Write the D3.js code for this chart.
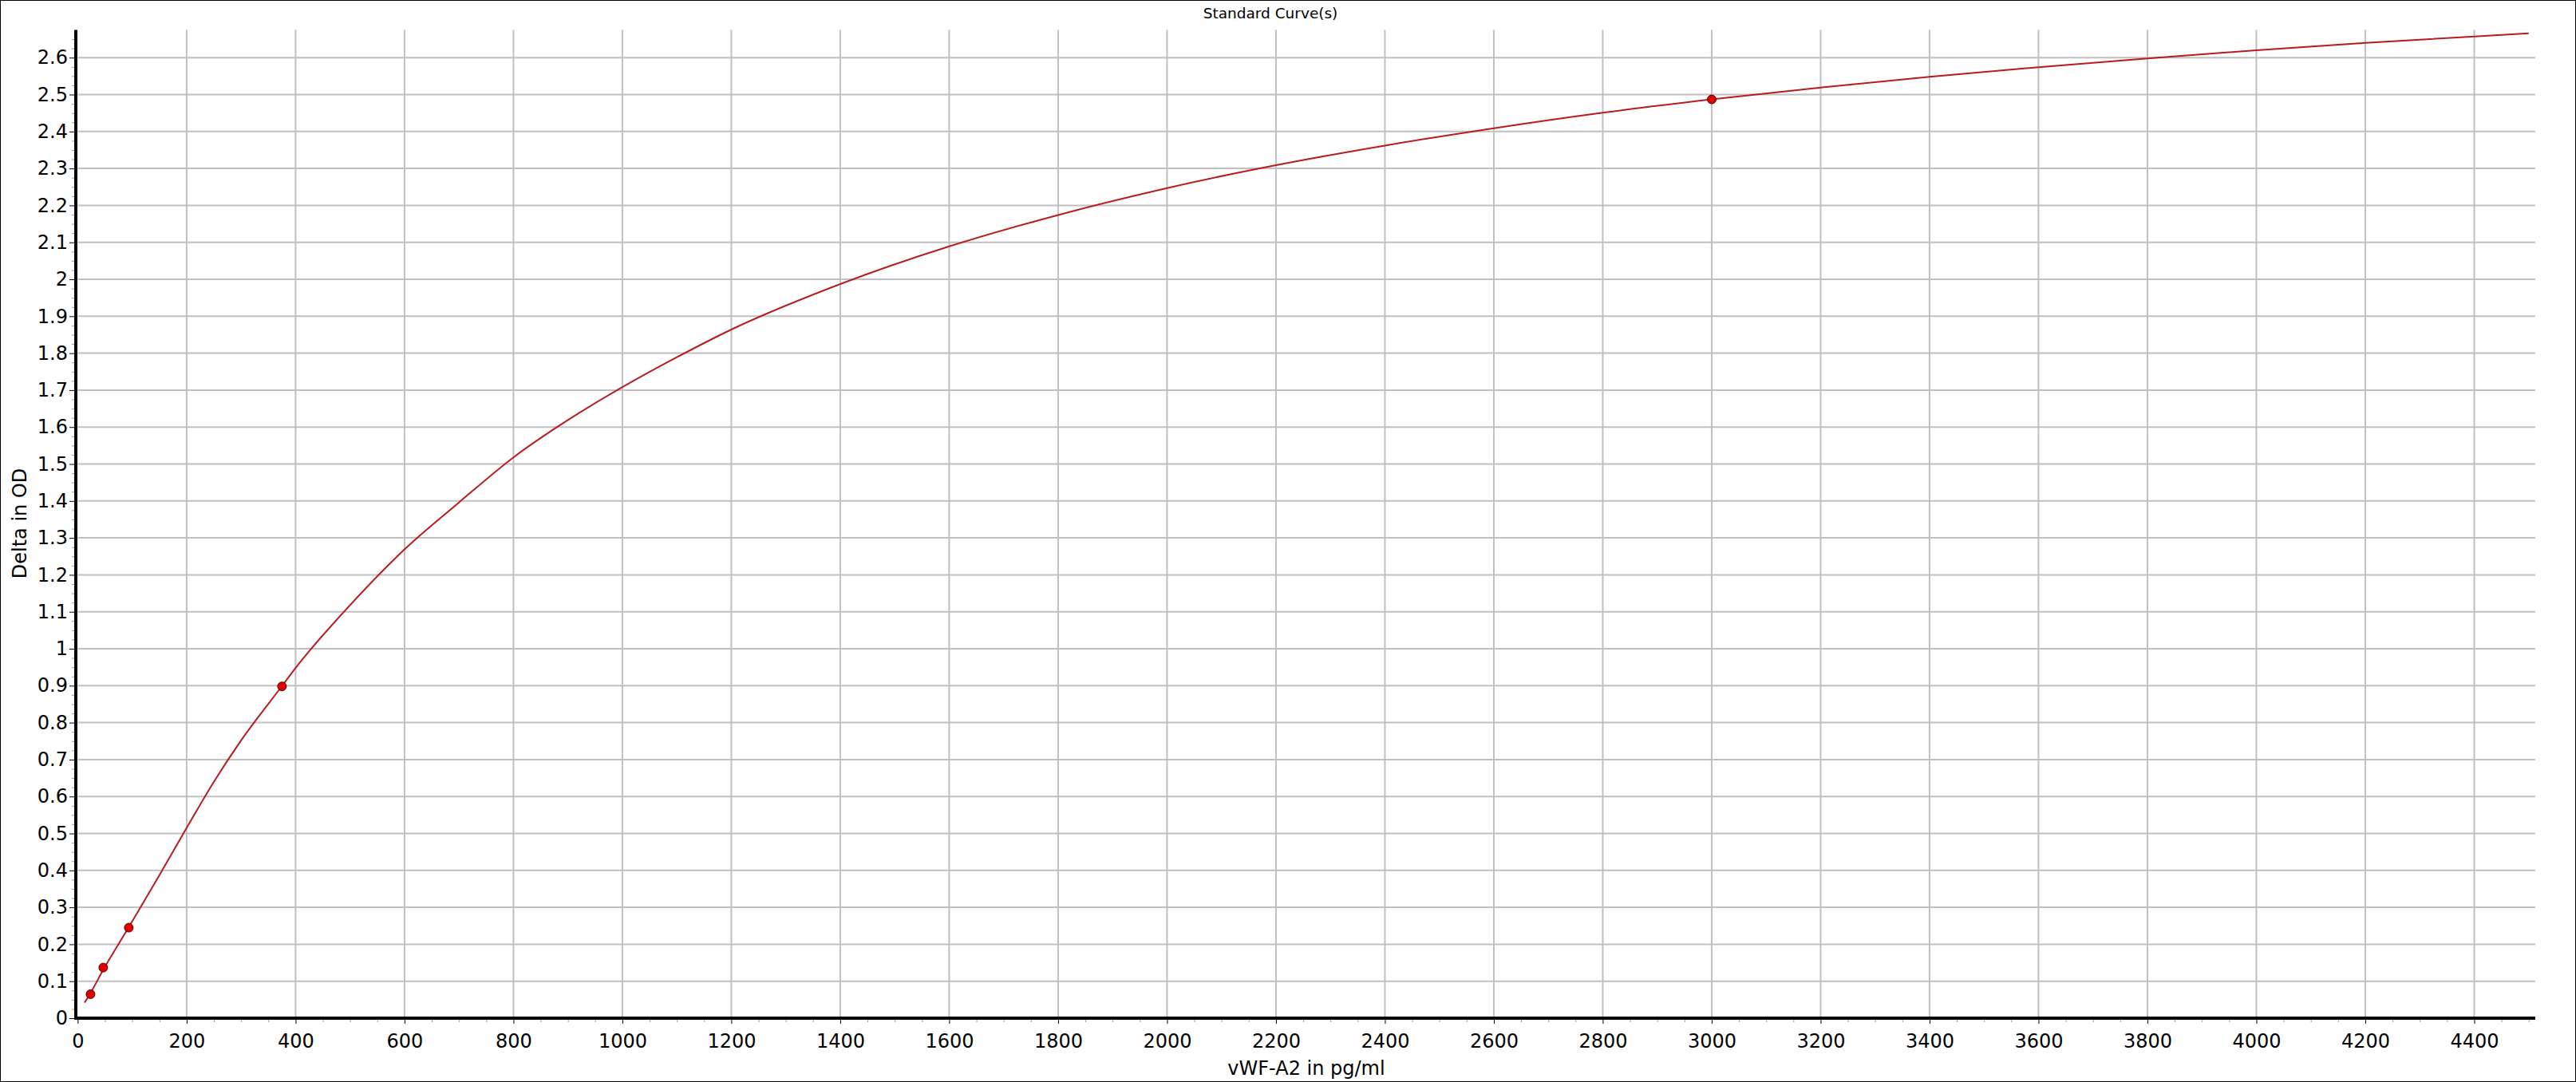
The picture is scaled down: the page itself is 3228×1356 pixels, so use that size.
<!DOCTYPE html>
<html>
<head>
<meta charset="utf-8">
<script src="https://cdn.jsdelivr.net/npm/d3@7/dist/d3.min.js"></script>
<style>
  html, body { margin: 0; padding: 0; background: #fff; }
  svg { display: block; font-family: "DejaVu Sans", Verdana, sans-serif; }
</style>
</head>
<body>
<svg id="chart" width="3228" height="1356"></svg>
<script>
// standards (measured points)
const stdConc = [23.4375, 46.875, 93.75, 375, 3000];
const stdOD = [0.065, 0.137, 0.245, 0.898, 2.487];

// fitted curve
const curveConc = [12.7, 23.4, 46.9, 93.75, 150, 200, 250, 300, 375, 400, 500, 600, 700, 800, 900, 1000, 1100,
  1200, 1400, 1600, 1800, 2000, 2200, 2400, 2600, 2800, 3000, 3200, 3400, 3600, 3800, 4000, 4200, 4400, 4500];
const curveOD = [0.042, 0.068, 0.131, 0.246, 0.387, 0.515, 0.64, 0.752, 0.899, 0.948, 1.118, 1.269, 1.396, 1.518,
  1.619, 1.708, 1.789, 1.864, 1.987, 2.089, 2.174, 2.247, 2.309, 2.362, 2.409, 2.451, 2.487, 2.519, 2.548, 2.574,
  2.598, 2.62, 2.64, 2.657, 2.666];

const xTicks = [0, 200, 400, 600, 800, 1000, 1200, 1400, 1600, 1800, 2000, 2200, 2400, 2600, 2800, 3000,
  3200, 3400, 3600, 3800, 4000, 4200, 4400];
const yTicks = [0, 0.1, 0.2, 0.3, 0.4, 0.5, 0.6, 0.7, 0.8, 0.9, 1, 1.1, 1.2, 1.3, 1.4, 1.5, 1.6, 1.7, 1.8, 1.9,
  2, 2.1, 2.2, 2.3, 2.4, 2.5, 2.6];

const chartTitle = "Standard Curve(s)";
const xTitle = "vWF-A2 in pg/ml";
const yTitle = "Delta in OD";

const width = 3228, height = 1356;
const plot = { left: 97.4, right: 3176.9, top: 37.5, bottom: 1276 };

const svg = d3.select("#chart");

const x = d3.scaleLinear().domain([0, 4512]).range([plot.left, plot.right]);
const y = d3.scaleLinear().domain([0, 2.675]).range([plot.bottom, plot.top]);

// grid
const grid = svg.append("g").attr("stroke", "#c0c0c0").attr("stroke-width", 2);
grid.selectAll("line.v")
  .data(xTicks.filter(d => d > 0))
  .join("line")
  .attr("class", "v")
  .attr("x1", d => x(d)).attr("x2", d => x(d))
  .attr("y1", plot.top).attr("y2", plot.bottom);
grid.selectAll("line.h")
  .data(yTicks.filter(d => d > 0))
  .join("line")
  .attr("class", "h")
  .attr("x1", plot.left).attr("x2", plot.right)
  .attr("y1", d => y(d)).attr("y2", d => y(d));

// minor ticks
const xMinor = d3.range(0, 4501, 50).filter(d => d % 200 !== 0);
const yMinor = d3.range(0, 2.675, 0.025).filter((d, i) => i % 4 !== 0);

svg.append("g")
  .attr("transform", `translate(0,${plot.bottom + 2})`)
  .call(d3.axisBottom(x).tickValues(xMinor).tickSize(3).tickFormat(""))
  .call(g => g.select(".domain").remove())
  .call(g => g.selectAll("line").attr("stroke", "#999"));

svg.append("g")
  .attr("transform", `translate(${plot.left - 4.4},0)`)
  .call(d3.axisLeft(y).tickValues(yMinor).tickSize(3).tickFormat(""))
  .call(g => g.select(".domain").remove())
  .call(g => g.selectAll("line").attr("stroke", "#999"));

// major axes
svg.append("g")
  .attr("transform", `translate(0,${plot.bottom + 2})`)
  .call(d3.axisBottom(x).tickValues(xTicks).tickSize(5).tickPadding(13).tickFormat(d3.format("d")))
  .call(g => g.select(".domain").remove())
  .call(g => g.selectAll("text").attr("font-size", 24).attr("fill", "#000").attr("font-family", "DejaVu Sans"))
  .call(g => g.selectAll("line").attr("stroke", "#000"));

svg.append("g")
  .attr("transform", `translate(${plot.left - 4.4},0)`)
  .call(d3.axisLeft(y).tickValues(yTicks).tickSize(6).tickPadding(2).tickFormat(d => String(+d.toFixed(1))))
  .call(g => g.select(".domain").remove())
  .call(g => g.selectAll("text").attr("font-size", 24).attr("fill", "#000").attr("font-family", "DejaVu Sans"))
  .call(g => g.selectAll("line").attr("stroke", "#000"));

// thick axis lines
svg.append("line")
  .attr("x1", plot.left - 2.4).attr("x2", plot.left - 2.4)
  .attr("y1", plot.top).attr("y2", plot.bottom + 2)
  .attr("stroke", "#000").attr("stroke-width", 4);
svg.append("line")
  .attr("x1", plot.left - 4.4).attr("x2", plot.right)
  .attr("y1", plot.bottom).attr("y2", plot.bottom)
  .attr("stroke", "#000").attr("stroke-width", 4);

// fitted curve
const line = d3.line()
  .x(d => x(d[0]))
  .y(d => y(d[1]))
  .curve(d3.curveMonotoneX);

svg.append("path")
  .datum(d3.zip(curveConc, curveOD))
  .attr("fill", "none")
  .attr("stroke", "#b81c1c")
  .attr("stroke-width", 2)
  .attr("d", line);

// standards
svg.append("g")
  .selectAll("circle")
  .data(d3.zip(stdConc, stdOD))
  .join("circle")
  .attr("cx", d => x(d[0]))
  .attr("cy", d => y(d[1]))
  .attr("r", 5.5)
  .attr("fill", "#e00000")
  .attr("stroke", "#500000")
  .attr("stroke-width", 1);

// titles
svg.append("text")
  .attr("x", 1592).attr("y", 23)
  .attr("text-anchor", "middle")
  .attr("font-size", 18.5)
  .text(chartTitle);

svg.append("text")
  .attr("x", 1637).attr("y", 1347)
  .attr("text-anchor", "middle")
  .attr("font-size", 24)
  .text(xTitle);

svg.append("text")
  .attr("transform", "translate(33,656) rotate(-90)")
  .attr("text-anchor", "middle")
  .attr("font-size", 24)
  .text(yTitle);

// outer frame
svg.append("rect")
  .attr("x", 0.5).attr("y", 0.5)
  .attr("width", width - 1).attr("height", height - 1)
  .attr("fill", "none")
  .attr("stroke", "#000")
  .attr("stroke-width", 1);
</script>
</body>
</html>
